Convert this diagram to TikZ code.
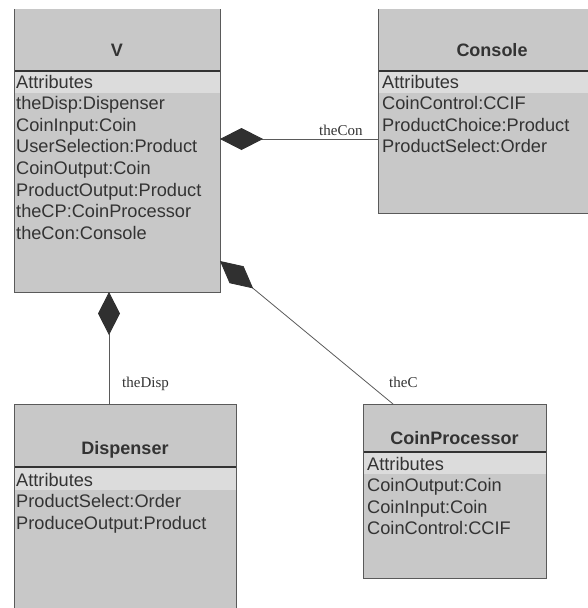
\documentclass[tikz,border=0pt]{standalone}
\usepackage{fontspec}
\setmainfont{Liberation Sans}
\newfontfamily\rolefont{Liberation Serif}
\usetikzlibrary{arrows.meta}

\definecolor{classfill}{HTML}{C8C8C8}
\definecolor{bandfill}{HTML}{DCDCDC}
\definecolor{edgegray}{HTML}{5A5A5A}
\definecolor{ink}{HTML}{333333}
\definecolor{diamondfill}{HTML}{303030}

\tikzset{
  classbody/.style={fill=classfill, draw=none, anchor=north west, inner sep=0pt, outer sep=0pt},
  border/.style={draw=edgegray, line width=1pt},
  divider/.style={draw=ink, line width=1.5pt},
  band/.style={fill=bandfill},
  title/.style={font=\bfseries\fontsize{18}{20}\selectfont, text=ink, anchor=base, inner sep=0pt},
  attr/.style={font=\fontsize{18.2}{20}\selectfont, text=ink, anchor=base west, inner sep=0pt},
  role/.style={font=\rolefont\fontsize{15}{17}\selectfont, text=ink, anchor=base west, inner sep=0pt},
  composition/.style={draw=edgegray, line width=0.8pt,
    {Diamond[length=43pt,width=22pt,fill=diamondfill,color=diamondfill]}-},
}

\begin{document}
\begin{tikzpicture}[x=1pt,y=-1pt]
\path[use as bounding box, clip] (0,0) rectangle (588,608);

% ---- class V ----
\node[classbody, minimum width=206pt, minimum height=283pt] (V) at (14,9) {};
\fill[band] (14,71) rectangle (220,93);
\draw[divider] (14,71) -- (220,71);
\draw[border] (V.north west) -- (V.south west) -- (V.south east) -- (V.north east);
\node[title] (Vtitle) at (117,56.5) {V};
\foreach \t [count=\i] in {Attributes, theDisp:Dispenser, CoinInput:Coin,
    UserSelection:Product, CoinOutput:Coin, ProductOutput:Product,
    theCP:CoinProcessor, theCon:Console}
  \node[attr] (Vattr\i) at (16,{88+21.6*(\i-1)}) {\t};

% ---- class Console ----
\node[classbody, minimum width=228pt, minimum height=204pt] (Console) at (378,9) {};
\fill[band] (378,71) rectangle (606,93);
\draw[divider] (378,71) -- (606,71);
\draw[border] (Console.north west) -- (Console.south west) -- (Console.south east);
\node[title] (Ctitle) at (492,56.5) {Console};
\foreach \t [count=\i] in {Attributes, CoinControl:CCIF,
    ProductChoice:Product, ProductSelect:Order}
  \node[attr] (Cattr\i) at (382,{88+21.6*(\i-1)}) {\t};

% ---- class Dispenser ----
\node[classbody, minimum width=222pt, minimum height=216pt] (Dispenser) at (14,404) {};
\fill[band] (14,467) rectangle (236,490);
\draw[divider] (14,467) -- (236,467);
\draw[border] (Dispenser.south west) -- (Dispenser.north west) -- (Dispenser.north east) -- (Dispenser.south east);
\node[title] (Dtitle) at (125,454) {Dispenser};
\foreach \t [count=\i] in {Attributes, ProductSelect:Order, ProduceOutput:Product}
  \node[attr] (Dattr\i) at (16,{486+21.6*(\i-1)}) {\t};

% ---- class CoinProcessor ----
\node[classbody, minimum width=183pt, minimum height=174pt] (CP) at (363,404) {};
\fill[band] (363,452) rectangle (546,474);
\draw[divider] (363,452) -- (546,452);
\draw[border] (CP.north west) rectangle (CP.south east);
\node[title] (Ptitle) at (454.5,444) {CoinProcessor};
\foreach \t [count=\i] in {Attributes, CoinOutput:Coin, CoinInput:Coin, CoinControl:CCIF}
  \node[attr] (Pattr\i) at (367,{470+21.6*(\i-1)}) {\t};

% ---- compositions ----
\draw[composition] ([yshift=-130pt]V.north east) -- ([yshift=-130pt]Console.north west);
\draw[composition] ([xshift=95pt]V.south west) -- ([xshift=95pt]Dispenser.north west);
\draw[composition] ([yshift=31pt]V.south east) -- ([xshift=30pt]CP.north west);

% ---- role names ----
\node[role] (rCon) at (319,135.7) {theCon};
\node[role] (rDisp) at (122,387) {theDisp};
\node[role] (rC) at (389,387) {theC};
\end{tikzpicture}
\end{document}
